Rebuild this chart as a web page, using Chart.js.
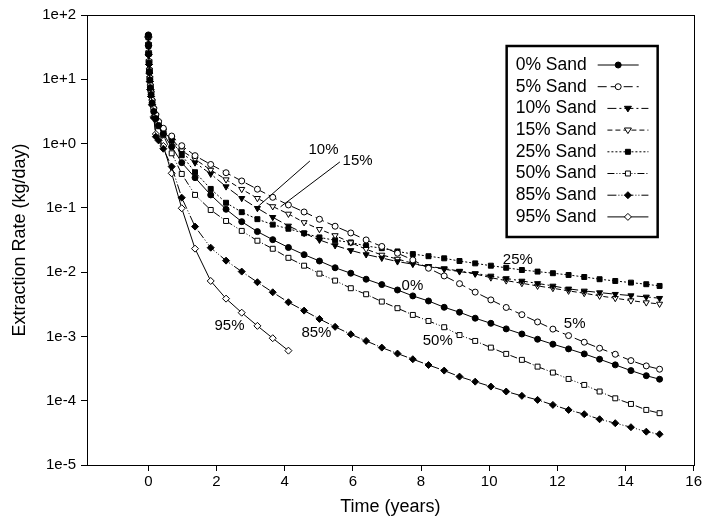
<!DOCTYPE html>
<html>
<head>
<meta charset="utf-8">
<title>Extraction Rate vs Time</title>
<script src="https://cdn.jsdelivr.net/npm/chart.js"></script>
<style>
  html, body { margin: 0; padding: 0; background: #fff; }
  #wrap { width: 704px; height: 523px; }
</style>
</head>
<body>
<div id="wrap"><canvas id="rateChart" width="704" height="523"></canvas></div>
<script>
// Time (years) of each output step
const times = [0, 0.005, 0.01, 0.02, 0.03, 0.045, 0.06, 0.08, 0.11, 0.16, 0.22, 0.3, 0.44, 0.685, 0.98,
    1.37, 1.83, 2.28, 2.74, 3.2, 3.65, 4.11, 4.57, 5.02, 5.48, 5.94, 6.39, 6.85, 7.31, 7.76,
    8.22, 8.68, 9.13, 9.59, 10.05, 10.5, 10.96, 11.42, 11.87, 12.33, 12.79, 13.24, 13.7, 14.16, 14.61, 15];

// Extraction rate (kg/day) per sand content
const sand0 = [49, 34, 25, 18, 13.2, 9.8, 7.4, 5.8, 4.3, 3.16, 2.45, 1.91, 1.41, 0.891, 0.505,
    0.295, 0.159, 0.0951, 0.061, 0.0427, 0.032, 0.0242, 0.0187, 0.0149, 0.0117, 0.00962, 0.00776, 0.0064, 0.00528, 0.00427,
    0.00356, 0.00284, 0.00238, 0.00192, 0.0016, 0.00131, 0.00109, 0.000904, 0.000757, 0.00064, 0.000535, 0.000442, 0.000361, 0.000294, 0.000245,
    0.000216];
const sand5 = [48, 35, 26, 19, 14, 10.5, 8, 6.3, 4.7, 3.5, 2.8, 2.2, 1.73, 1.31, 0.927,
    0.649, 0.473, 0.352, 0.262, 0.195, 0.146, 0.111, 0.0863, 0.0665, 0.0518, 0.0407, 0.0317, 0.0251, 0.0197, 0.0155,
    0.0115, 0.00873, 0.00662, 0.00489, 0.0037, 0.00282, 0.00218, 0.00168, 0.0013, 0.00103, 0.000813, 0.000655, 0.000528, 0.000421, 0.000348,
    0.000309];
const sand10 = [46, 34, 25, 18.5, 13.8, 10.3, 7.8, 6.1, 4.5, 3.39, 2.69, 2.09, 1.58, 1.12, 0.706,
    0.505, 0.337, 0.214, 0.141, 0.0986, 0.0714, 0.0524, 0.0403, 0.0317, 0.026, 0.0218, 0.0188, 0.0166, 0.0146, 0.0133,
    0.0123, 0.0114, 0.0104, 0.00955, 0.00873, 0.00798, 0.00729, 0.00668, 0.0061, 0.0055, 0.00511, 0.00481, 0.00454, 0.00432, 0.00412,
    0.00393];
const sand15 = [47, 35, 26, 19, 14, 10.4, 7.9, 6.2, 4.6, 3.47, 2.75, 2.14, 1.62, 1.2, 0.776,
    0.57, 0.388, 0.275, 0.195, 0.141, 0.105, 0.0804, 0.0593, 0.0465, 0.0372, 0.0288, 0.0227, 0.0185, 0.016, 0.0137,
    0.0122, 0.0111, 0.0102, 0.00938, 0.0082, 0.00738, 0.00671, 0.0061, 0.00562, 0.00511, 0.0047, 0.00427, 0.00393, 0.00361, 0.00336,
    0.0032];
const sand25 = [45, 33, 25, 18, 13.5, 10, 7.6, 6, 4.4, 3.31, 2.63, 2.04, 1.55, 1.11, 0.658,
    0.358, 0.197, 0.12, 0.0857, 0.0667, 0.0548, 0.0473, 0.0403, 0.0347, 0.0313, 0.029, 0.0255, 0.0236, 0.021, 0.0191,
    0.0177, 0.0164, 0.0149, 0.0137, 0.0126, 0.0117, 0.0108, 0.0102, 0.00962, 0.00904, 0.00841, 0.00776, 0.00729, 0.00687, 0.00649,
    0.0061];
const sand50 = [47, 34, 25, 18, 13, 9.6, 7.2, 5.7, 4.2, 3.16, 2.4, 1.86, 1.35, 0.706, 0.337,
    0.159, 0.0927, 0.0625, 0.0438, 0.0308, 0.0231, 0.0167, 0.0126, 0.00948, 0.00738, 0.00562, 0.00453, 0.00348, 0.00275, 0.00216,
    0.00174, 0.00139, 0.00105, 0.000851, 0.00067, 0.000535, 0.000432, 0.000339, 0.000274, 0.000218, 0.000176, 0.000139, 0.000109, 0.0000891, 0.0000719,
    0.000064];
const sand85 = [46, 33, 24, 17, 12.5, 9.2, 6.9, 5.4, 4.0, 2.51, 1.28, 1.12, 0.832, 0.438, 0.144,
    0.0511, 0.024, 0.0151, 0.0102, 0.00697, 0.00486, 0.0034, 0.00252, 0.00187, 0.00141, 0.00108, 0.000851, 0.00067, 0.000541, 0.000442,
    0.000359, 0.000294, 0.000237, 0.000198, 0.000166, 0.000139, 0.000119, 0.000103, 0.0000861, 0.0000719, 0.0000617, 0.0000515, 0.0000447, 0.0000387, 0.000033,
    0.0000301];
const sand95 = [45, 33, 24, 17, 12.5, 9.2, 6.9, 5.4, 4.0, 2.63, 1.41, 1.2, 0.918, 0.345, 0.0986,
    0.0232, 0.00729, 0.00387, 0.00234, 0.00146, 0.000938, 0.000601, null, null, null, null, null, null, null, null,
    null, null, null, null, null, null, null, null, null, null, null, null, null, null, null,
    null];

const seriesNames = ["0% Sand", "5% Sand", "10% Sand", "15% Sand", "25% Sand", "50% Sand", "85% Sand", "95% Sand"];
const seriesValues = [sand0, sand5, sand10, sand15, sand25, sand50, sand85, sand95];

// Axis ticks
const xTickValues = [0, 2, 4, 6, 8, 10, 12, 14, 16];
const yTickValues = [1e2, 1e1, 1e0, 1e-1, 1e-2, 1e-3, 1e-4, 1e-5];
const yTickLabels = ["1e+2", "1e+1", "1e+0", "1e-1", "1e-2", "1e-3", "1e-4", "1e-5"];

// Curve labels on the plot: [text, time, rate]
const curveLabels = [
    ["10%", 4.7, 0.79], ["15%", 5.7, 0.536], ["25%", 10.4, 0.0155], ["0%", 7.43, 0.0061],
    ["5%", 12.19, 0.00156], ["50%", 8.05, 0.00085], ["95%", 1.94, 0.00146], ["85%", 4.49, 0.00113]
];
// Leader lines: [fromTime, fromRate, toTime, toRate]
const leaderLines = [
    [4.74, 0.536, 3.2, 0.103],
    [5.62, 0.518, 3.88, 0.104]
];

// Marker and line style per series
const styles = [
    { shape: "circle", fill: "#000", r: 3, dash: [] },
    { shape: "circle", fill: "#fff", r: 3, dash: [9, 4] },
    { shape: "triangle", fill: "#000", r: 3.5, dash: [9, 3, 2, 3] },
    { shape: "triangle", fill: "#fff", r: 3.5, dash: [5, 3] },
    { shape: "rect", fill: "#000", r: 3.5, dash: [2, 2] },
    { shape: "rect", fill: "#fff", r: 3.5, dash: [7, 2, 1, 2, 1, 2] },
    { shape: "rectRot", fill: "#000", r: 3.5, dash: [9, 2, 1, 2, 1, 2] },
    { shape: "rectRot", fill: "#fff", r: 3.5, dash: [] }
];

const FONT = '"Liberation Sans", Arial, sans-serif';
Chart.defaults.font.family = FONT;
Chart.defaults.color = "#000";

function drawMarker(ctx, st, x, y) {
    ctx.save();
    ctx.setLineDash([]);
    ctx.lineWidth = 1;
    ctx.strokeStyle = "#000";
    ctx.fillStyle = st.fill;
    ctx.beginPath();
    const r = st.r;
    if (st.shape === "circle") {
        ctx.arc(x, y, r, 0, Math.PI * 2);
    } else if (st.shape === "triangle") {
        ctx.moveTo(x - r, y - r * 0.6);
        ctx.lineTo(x + r, y - r * 0.6);
        ctx.lineTo(x, y + r);
        ctx.closePath();
    } else if (st.shape === "rect") {
        const s = r * Math.SQRT1_2;
        ctx.rect(x - s, y - s, s * 2, s * 2);
    } else {
        ctx.moveTo(x, y - r);
        ctx.lineTo(x + r, y);
        ctx.lineTo(x, y + r);
        ctx.lineTo(x - r, y);
        ctx.closePath();
    }
    ctx.fill();
    ctx.stroke();
    ctx.restore();
}

const frameAndLegend = {
    id: "frameAndLegend",
    afterDatasetsDraw(chart) {
        const { ctx, scales } = chart;
        const xs = scales.x, ys = scales.y;
        ctx.save();
        ctx.fillStyle = "#000";
        ctx.strokeStyle = "#000";
        ctx.lineWidth = 1;
        ctx.font = "15px " + FONT;
        ctx.textBaseline = "middle";
        ctx.textAlign = "left";
        curveLabels.forEach(([txt, t, v]) => {
            ctx.fillText(txt, xs.getPixelForValue(t), ys.getPixelForValue(v));
        });
        leaderLines.forEach(([t0, v0, t1, v1]) => {
            ctx.beginPath();
            ctx.moveTo(xs.getPixelForValue(t0), ys.getPixelForValue(v0));
            ctx.lineTo(xs.getPixelForValue(t1), ys.getPixelForValue(v1));
            ctx.stroke();
        });
        ctx.restore();
    },
    afterDraw(chart) {
        const { ctx, chartArea } = chart;
        ctx.save();
        // plot frame
        ctx.strokeStyle = "#000";
        ctx.lineWidth = 1;
        ctx.strokeRect(Math.round(chartArea.left) + 0.5, Math.round(chartArea.top) + 0.5,
            Math.round(chartArea.right - chartArea.left), Math.round(chartArea.bottom - chartArea.top));

        // legend box
        const boxLeft = chartArea.right - 187;
        const boxTop = chartArea.top + 31;
        ctx.lineWidth = 2.5;
        ctx.strokeRect(boxLeft, boxTop, 151, 191);

        ctx.font = "17.5px " + FONT;
        ctx.textBaseline = "middle";
        ctx.textAlign = "left";
        ctx.fillStyle = "#000";
        seriesNames.forEach((name, i) => {
            const y = boxTop + 19 + i * 21.7;
            const tx = boxLeft + 9;
            ctx.fillText(name, tx, y);
            const x0 = tx + ctx.measureText(name).width + 11;
            const x1 = x0 + 41;
            ctx.lineWidth = 1;
            ctx.setLineDash(styles[i].dash);
            ctx.beginPath();
            ctx.moveTo(x0, y);
            ctx.lineTo(x1, y);
            ctx.stroke();
            ctx.setLineDash([]);
            drawMarker(ctx, styles[i], (x0 + x1) / 2, y);
        });
        ctx.restore();
    }
};

const datasets = seriesNames.map((name, i) => {
    const st = styles[i];
    return {
        label: name,
        data: times.map((t, j) => ({ x: t, y: seriesValues[i][j] })).filter(p => p.y !== null),
        borderColor: "#000",
        borderWidth: 1,
        borderDash: st.dash,
        backgroundColor: st.fill,
        pointBackgroundColor: st.fill,
        pointBorderColor: "#000",
        pointBorderWidth: 1,
        pointStyle: st.shape,
        pointRotation: st.shape === "triangle" ? 180 : 0,
        pointRadius: st.r,
        tension: 0,
        fill: false
    };
});

new Chart(document.getElementById("rateChart"), {
    type: "line",
    data: { datasets },
    plugins: [frameAndLegend],
    options: {
        responsive: false,
        devicePixelRatio: 1,
        animation: false,
        layout: { padding: { top: 15, right: 10, left: 0, bottom: 0 } },
        plugins: { legend: { display: false }, tooltip: { enabled: false } },
        scales: {
            x: {
                type: "linear",
                min: -1.8,
                max: 16,
                afterBuildTicks: axis => { axis.ticks = xTickValues.map(v => ({ value: v })); },
                afterFit: scale => { scale.height = 58; },
                ticks: { font: { size: 15 }, color: "#000", padding: 2, maxRotation: 0 },
                grid: { drawOnChartArea: false, tickLength: 6, color: "#000" },
                border: { color: "#000" },
                title: { display: true, text: "Time (years)", font: { size: 18 }, color: "#000", padding: { top: 0, bottom: 5 } }
            },
            y: {
                type: "logarithmic",
                min: 1e-5,
                max: 1e2,
                afterBuildTicks: axis => { axis.ticks = yTickValues.map(v => ({ value: v })); },
                afterFit: scale => { scale.width = 87; },
                ticks: {
                    font: { size: 15 },
                    color: "#000",
                    padding: 5,
                    callback: value => yTickLabels[yTickValues.indexOf(value)]
                },
                grid: { drawOnChartArea: false, tickLength: 6, color: "#000" },
                border: { color: "#000" },
                title: { display: true, text: "Extraction Rate (kg/day)", font: { size: 18 }, color: "#000", padding: { top: 9, bottom: 0 } }
            }
        }
    }
});
</script>
</body>
</html>
